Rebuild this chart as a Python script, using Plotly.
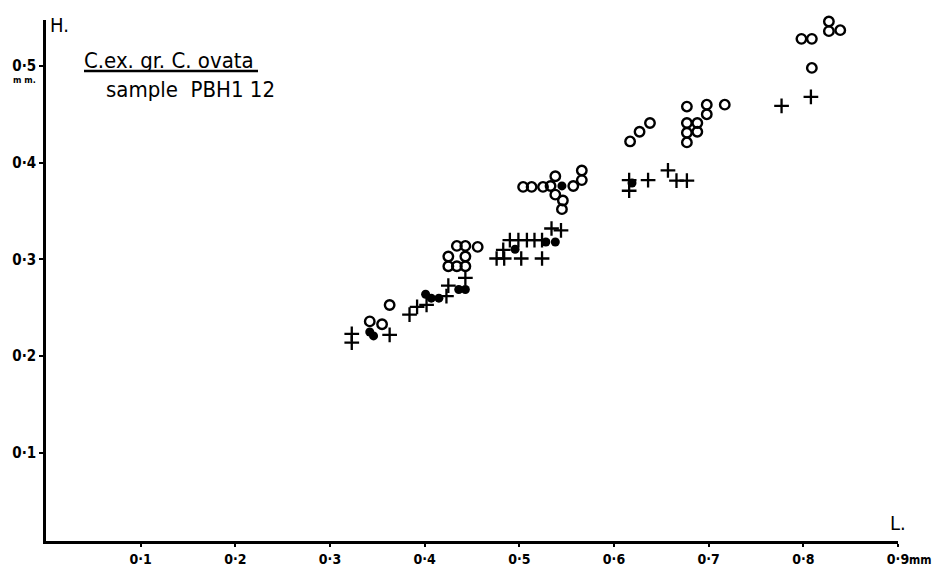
import plotly.graph_objects as go

# Open circles (L, H in mm)
open_L = [0.342, 0.355, 0.363,
          0.425, 0.425, 0.434, 0.443, 0.443, 0.434, 0.443, 0.456,
          0.504, 0.513, 0.525, 0.533, 0.538, 0.538, 0.546, 0.545, 0.557, 0.566, 0.566,
          0.617, 0.627, 0.638,
          0.677, 0.677, 0.677, 0.677, 0.688, 0.688, 0.698, 0.698, 0.717,
          0.798, 0.809, 0.827, 0.827, 0.839, 0.809]
open_H = [0.236, 0.233, 0.253,
          0.303, 0.293, 0.293, 0.293, 0.303, 0.314, 0.314, 0.313,
          0.375, 0.375, 0.375, 0.376, 0.386, 0.367, 0.361, 0.352, 0.376, 0.392, 0.382,
          0.422, 0.432, 0.441,
          0.458, 0.441, 0.431, 0.421, 0.441, 0.432, 0.460, 0.450, 0.460,
          0.528, 0.528, 0.546, 0.536, 0.537, 0.498]

# Filled circles
fill_L = [0.342, 0.346, 0.401, 0.407, 0.415, 0.436, 0.443, 0.4955, 0.528, 0.538, 0.545, 0.619]
fill_H = [0.225, 0.221, 0.264, 0.260, 0.260, 0.269, 0.269, 0.3105, 0.318, 0.318, 0.376, 0.379]

# Crosses
plus_L = [0.323, 0.323, 0.363, 0.384, 0.392, 0.402, 0.423, 0.425, 0.443,
          0.476, 0.484, 0.483, 0.502, 0.524,
          0.490, 0.499, 0.508, 0.516, 0.524, 0.534, 0.544,
          0.616, 0.616, 0.636, 0.657, 0.666, 0.677, 0.777, 0.808]
plus_H = [0.223, 0.214, 0.222, 0.243, 0.251, 0.253, 0.262, 0.273, 0.281,
          0.301, 0.301, 0.310, 0.301, 0.301,
          0.320, 0.320, 0.320, 0.320, 0.320, 0.332, 0.330,
          0.382, 0.371, 0.382, 0.392, 0.3815, 0.3815, 0.4587, 0.468]

x_ticks = [0.1, 0.2, 0.3, 0.4, 0.5, 0.6, 0.7, 0.8, 0.9]
x_ticktext = ["0·1", "0·2", "0·3", "0·4", "0·5", "0·6", "0·7", "0·8", "0·9"]
y_ticks = [0.1, 0.2, 0.3, 0.4, 0.5]
y_ticktext = ["0·1", "0·2", "0·3", "0·4", "0·5"]

FONT = "DejaVu Sans Condensed, DejaVu Sans, sans-serif"

fig = go.Figure()
fig.add_trace(go.Scatter(x=plus_L, y=plus_H, mode="markers", cliponaxis=False,
                         marker=dict(symbol="cross-thin", size=10.5, color="black",
                                     line=dict(width=2.3, color="black"))))
fig.add_trace(go.Scatter(x=open_L, y=open_H, mode="markers", cliponaxis=False,
                         marker=dict(symbol="circle-open", size=9.5, color="black",
                                     line=dict(width=2.4, color="black"))))
fig.add_trace(go.Scatter(x=fill_L, y=fill_H, mode="markers", cliponaxis=False,
                         marker=dict(symbol="circle", size=9, color="black",
                                     line=dict(width=0))))

# the page body has an 8px margin: size/margins compensate so the plot area
# lands at x 46..898, y 20..541 in the 940x568 window
fig.update_layout(
    width=932, height=560,
    margin=dict(l=38, r=42, t=12, b=27),
    paper_bgcolor="white", plot_bgcolor="white",
    showlegend=False,
    font=dict(family=FONT, color="black"),
    xaxis=dict(range=[0, 0.9], showgrid=False, zeroline=False, automargin=False,
               showline=True, linewidth=2.5, linecolor="black",
               ticks="outside", ticklen=3, tickwidth=2, tickcolor="black",
               tickvals=x_ticks, ticktext=x_ticktext,
               tickfont=dict(size=14, family=FONT, weight="bold")),
    yaxis=dict(range=[0.009, 0.5475], showgrid=False, zeroline=False, automargin=False,
               showline=True, linewidth=2.5, linecolor="black",
               ticks="outside", ticklen=4, tickwidth=2, tickcolor="black",
               tickvals=y_ticks, ticktext=y_ticktext,
               tickfont=dict(size=15, family=FONT, weight="bold")),
)

# Axis letters and units
fig.add_annotation(xref="paper", yref="paper", x=0.0, y=1.0, xshift=2, yshift=9,
                   xanchor="left", yanchor="top", showarrow=False,
                   text="H.", font=dict(size=20, family=FONT))
fig.add_annotation(xref="x", yref="paper", x=0.9, y=0.0, yshift=4,
                   xanchor="center", yanchor="bottom", showarrow=False,
                   text="L.", font=dict(size=20, family=FONT))
fig.add_annotation(xref="x", yref="paper", x=0.9, y=0.0, xshift=9, yshift=-10,
                   xanchor="left", yanchor="top", showarrow=False,
                   text="mm.", font=dict(size=12, family=FONT, weight="bold"))
fig.add_annotation(xref="paper", yref="y", x=0.0, y=0.5, xshift=-8, yshift=-14,
                   xanchor="right", yanchor="middle", showarrow=False,
                   text="m m.", font=dict(size=9, family=FONT, weight="bold"))

# Title block
fig.add_annotation(xref="paper", yref="paper", x=(82 - 46) / 852, y=(541 - 60) / 521,
                   xanchor="left", yanchor="middle", showarrow=False,
                   text="C.ex. gr. C. ovata", font=dict(size=22, family=FONT))
fig.add_shape(type="line", xref="paper", yref="paper",
              x0=(84 - 46) / 852, x1=(258 - 46) / 852,
              y0=(541 - 71) / 521, y1=(541 - 71) / 521,
              line=dict(color="black", width=2.5))
fig.add_annotation(xref="paper", yref="paper", x=(104 - 46) / 852, y=(541 - 89) / 521,
                   xanchor="left", yanchor="middle", showarrow=False,
                   text="sample  PBH1 12", font=dict(size=22, family=FONT))

fig.write_html("out.html")
